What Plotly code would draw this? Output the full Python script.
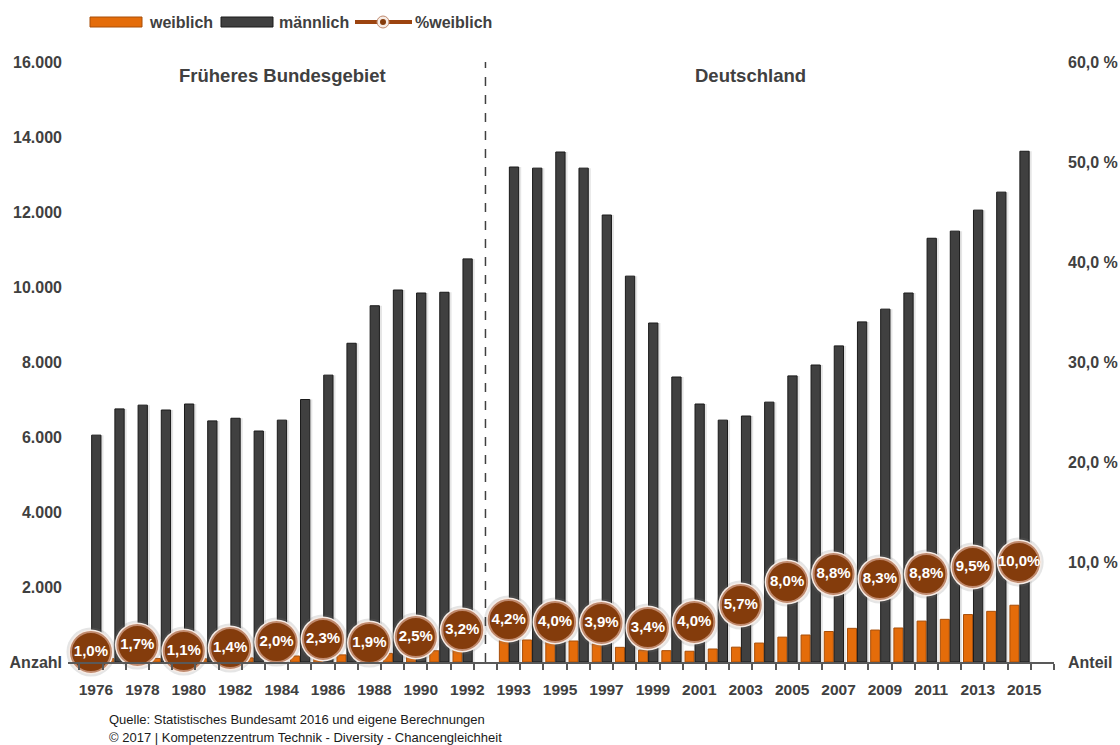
import plotly.graph_objects as go

# ---------------- data ----------------
years_west = list(range(1976, 1993))
years_de = list(range(1993, 2016))

maennlich_west = [6050, 6750, 6850, 6720, 6880, 6430, 6500, 6160, 6450, 7000,
                  7650, 8500, 9500, 9920, 9840, 9860, 10750]
maennlich_de = [13200, 13170, 13600, 13170, 11920, 10290, 9040, 7600, 6880, 6450,
                6560, 6930, 7630, 7920, 8430, 9070, 9410, 9840, 11300, 11490,
                12050, 12530, 13620]

weiblich_west = [61, 90, 118, 95, 77, 85, 92, 110, 132, 160,
                 180, 190, 184, 230, 252, 300, 355]
weiblich_de = [579, 587, 567, 560, 484, 391, 318, 302, 287, 347,
               396, 505, 663, 720, 813, 898, 852, 907, 1091, 1138,
               1265, 1351, 1514]

pct_years = [1976, 1978, 1980, 1982, 1984, 1986, 1988, 1990, 1992,
             1993, 1995, 1997, 1999, 2001, 2003, 2005, 2007, 2009, 2011, 2013, 2015]
pct_weiblich = [1.0, 1.7, 1.1, 1.4, 2.0, 2.3, 1.9, 2.5, 3.2,
                4.2, 4.0, 3.9, 3.4, 4.0, 5.7, 8.0, 8.8, 8.3, 8.8, 9.5, 10.0]

left_tickvals = [0, 2000, 4000, 6000, 8000, 10000, 12000, 14000, 16000]
left_ticktext = ["Anzahl", "2.000", "4.000", "6.000", "8.000", "10.000", "12.000", "14.000", "16.000"]
right_tickvals = [0, 10, 20, 30, 40, 50, 60]
right_ticktext = ["Anteil", "10,0 %", "20,0 %", "30,0 %", "40,0 %", "50,0 %", "60,0 %"]

# ---------------- layout helpers ----------------
# category slots: west years, one empty slot, german years, one trailing empty slot
slots = years_west + [None] + years_de + [None]
pos = {y: i for i, y in enumerate(slots) if y is not None}
gap_pos = len(years_west)

years = years_west + years_de
maennlich = maennlich_west + maennlich_de
weiblich = weiblich_west + weiblich_de
xb = [pos[y] for y in years]
xp = [pos[y] for y in pct_years]

W, H = 1120, 745
L, R, T, B = 68, 66, 62, 83
PW, PH = W - L - R, H - T - B


def px(x):
    return (x - L) / PW


def py(y):
    return (T + PH - y) / PH


DARK = "#404040"
SANS = "Liberation Sans, Arial, sans-serif"

fig = go.Figure()

# soft shadow of the dark bars
fig.add_trace(go.Bar(x=xb, y=maennlich, offset=0.14, width=0.40,
                     marker=dict(color="rgba(0,0,0,0.10)", line=dict(width=0)),
                     showlegend=False, hoverinfo="skip"))
fig.add_trace(go.Bar(x=xb, y=weiblich, offset=-0.40, width=0.39, name="weiblich",
                     marker=dict(color="#E46C0A", line=dict(color="#A84E08", width=1))))
fig.add_trace(go.Bar(x=xb, y=maennlich, offset=0.03, width=0.40, name="männlich",
                     marker=dict(color="#404040", line=dict(color="#1A1A1A", width=1))))

# percentage circles (halo, ring, main)
fig.add_trace(go.Scatter(x=xp, y=pct_weiblich, yaxis="y2", mode="markers",
                         marker=dict(size=49, color="rgba(110,110,110,0.18)"),
                         cliponaxis=False, showlegend=False, hoverinfo="skip"))
fig.add_trace(go.Scatter(x=xp, y=pct_weiblich, yaxis="y2", mode="markers",
                         marker=dict(size=45, color="#F6ECE6"),
                         cliponaxis=False, showlegend=False, hoverinfo="skip"))
fig.add_trace(go.Scatter(x=xp, y=pct_weiblich, yaxis="y2", mode="markers+text",
                         name="%weiblich",
                         marker=dict(size=40, color="#843C0C", line=dict(color="#C08A6E", width=2)),
                         texttemplate="%{y:.1f}%", textposition="middle center",
                         textfont=dict(family=SANS, size=15, color="white", weight="bold"),
                         cliponaxis=False))

fig.update_layout(
    width=W, height=H,
    margin=dict(l=L, r=R, t=T, b=B, autoexpand=False),
    paper_bgcolor="white", plot_bgcolor="white",
    barmode="overlay",
    separators=",.",
    showlegend=False,
    xaxis=dict(
        range=[-0.99, len(slots) - 0.5], automargin=False,
        showgrid=False, zeroline=False,
        showline=True, linecolor="#595959", linewidth=2,
        tickmode="array",
        tickvals=[pos[y] for y in pct_years],
        ticktext=[str(y) for y in pct_years],
        ticks="", ticklabelstandoff=12, tickangle=0, ticklabelshift=5,
        tickfont=dict(family=SANS, size=15.5, color=DARK, weight="bold"),
        minor=dict(tickmode="array",
                   tickvals=[i - 0.5 for i in range(len(slots) + 1)],
                   ticks="outside", ticklen=6, tickcolor="#595959", tickwidth=1.5,
                   showgrid=False),
    ),
    yaxis=dict(
        range=[0, 16000], showgrid=False, zeroline=False, showline=False,
        automargin=False,
        tickmode="array", tickvals=left_tickvals, ticktext=left_ticktext,
        ticks="", ticklabelstandoff=5,
        tickfont=dict(family=SANS, size=16, color=DARK, weight="bold"),
    ),
    yaxis2=dict(
        range=[0, 60], overlaying="y", side="right",
        showgrid=False, zeroline=False, showline=False, automargin=False,
        tickmode="array", tickvals=right_tickvals, ticktext=right_ticktext,
        ticks="", ticklabelstandoff=13,
        tickfont=dict(family=SANS, size=16, color=DARK, weight="bold"),
    ),
)

# separator between the two periods
fig.add_shape(type="line", xref="x", yref="paper", x0=gap_pos, x1=gap_pos, y0=0, y1=1,
              line=dict(color=DARK, width=1.5, dash="dash"))

# section titles
fig.add_annotation(text="Früheres Bundesgebiet", xref="paper", yref="paper",
                   x=px(282), y=py(76), showarrow=False, xanchor="center", yanchor="middle",
                   font=dict(family=SANS, size=18.5, color=DARK, weight="bold"))
fig.add_annotation(text="Deutschland", xref="paper", yref="paper",
                   x=px(750), y=py(76), showarrow=False, xanchor="center", yanchor="middle",
                   font=dict(family=SANS, size=18.5, color=DARK, weight="bold"))

# custom legend
ly = py(22)
fig.add_shape(type="rect", xref="paper", yref="paper", x0=px(90), x1=px(142),
              y0=py(27), y1=py(17), fillcolor="#E46C0A", line=dict(color="#A84E08", width=1))
fig.add_annotation(text="weiblich", xref="paper", yref="paper", x=px(147), y=ly,
                   xanchor="left", yanchor="middle", showarrow=False,
                   font=dict(family=SANS, size=16, color=DARK, weight="bold"))
fig.add_shape(type="rect", xref="paper", yref="paper", x0=px(221), x1=px(273),
              y0=py(27), y1=py(17), fillcolor="#404040", line=dict(color="#1A1A1A", width=1))
fig.add_annotation(text="männlich", xref="paper", yref="paper", x=px(277), y=ly,
                   xanchor="left", yanchor="middle", showarrow=False,
                   font=dict(family=SANS, size=16, color=DARK, weight="bold"))
fig.add_shape(type="line", xref="paper", yref="paper", x0=px(355), x1=px(412),
              y0=ly, y1=ly, line=dict(color="#9C4410", width=4))
fig.add_shape(type="circle", xref="paper", yref="paper", x0=px(377), x1=px(389),
              y0=py(28), y1=py(16), fillcolor="#F6ECE6", line=dict(color="#C08A6E", width=1))
fig.add_shape(type="circle", xref="paper", yref="paper", x0=px(380), x1=px(386),
              y0=py(25), y1=py(19), fillcolor="#843C0C", line=dict(width=0))
fig.add_annotation(text="%weiblich", xref="paper", yref="paper", x=px(413), y=ly,
                   xanchor="left", yanchor="middle", showarrow=False,
                   font=dict(family=SANS, size=16, color=DARK, weight="bold"))

# source
fig.add_annotation(text="Quelle: Statistisches Bundesamt 2016 und eigene Berechnungen",
                   xref="paper", yref="paper", x=px(107), y=py(719), xanchor="left",
                   yanchor="middle", showarrow=False,
                   font=dict(family=SANS, size=13, color="#1A1A1A"))
fig.add_annotation(text="© 2017 | Kompetenzzentrum Technik - Diversity - Chancengleichheit",
                   xref="paper", yref="paper", x=px(107), y=py(737), xanchor="left",
                   yanchor="middle", showarrow=False,
                   font=dict(family=SANS, size=13, color="#1A1A1A"))

fig.write_html("out.html")
